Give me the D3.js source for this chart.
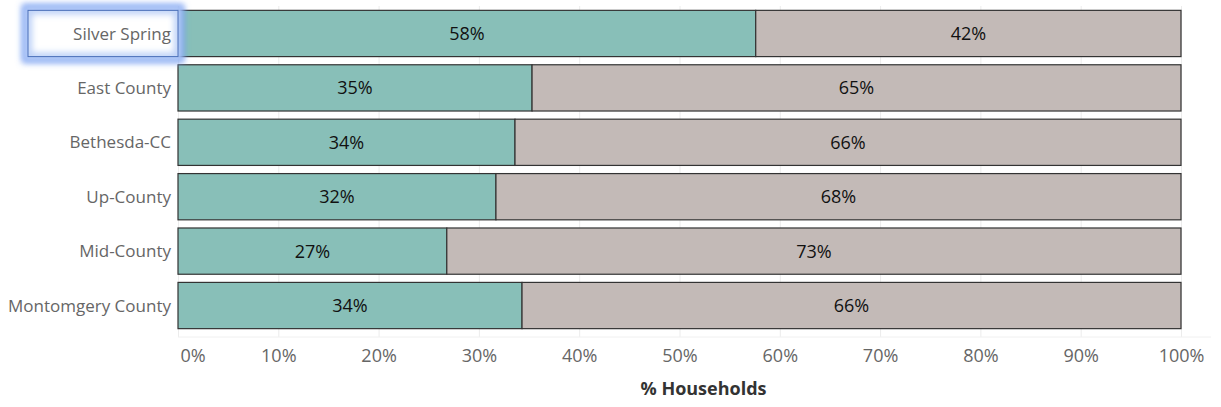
<!DOCTYPE html>
<html>
<head>
<meta charset="utf-8">
<script src="https://cdn.jsdelivr.net/npm/d3@7"></script>
<style>
  body { margin: 0; background: #fff; }
  text { font-family: "Open Sans", "Noto Sans", sans-serif; }
  .x.axis path { display: none; }
  .x.axis line { stroke: #ececec; }
  .x.axis text { fill: #666; font-size: 18px; }
</style>
</head>
<body>
<div id="chart"></div>
<script>
// regions top to bottom, share of households in the first group (%)
var regions = ["Silver Spring", "East County", "Bethesda-CC", "Up-County", "Mid-County", "Montomgery County"];
var firstShare = [57.6, 35.3, 33.6, 31.7, 26.8, 34.3];
var xTicks = [0, 10, 20, 30, 40, 50, 60, 70, 80, 90, 100];
var highlighted = "Silver Spring";

var svg = d3.select("#chart").append("svg").attr("width", 1221).attr("height", 407),
    margin = {top: 6, right: 40, bottom: 74, left: 178},
    width = +svg.attr("width") - margin.left - margin.right,
    height = +svg.attr("height") - margin.top - margin.bottom;

var x = d3.scaleLinear().domain([0, 100]).range([0, width]);
var y = d3.scaleBand().domain(regions).range([0, height]).paddingInner(0.15).paddingOuter(0.08);

var g = svg.append("g").attr("transform", "translate(" + margin.left + "," + margin.top + ")");

// glow for the highlighted label
var defs = svg.append("defs");
var f = defs.append("filter").attr("id", "glow").attr("x", "-20%").attr("y", "-50%").attr("width", "140%").attr("height", "200%");
f.append("feGaussianBlur").attr("stdDeviation", 3);

// gridlines + tick labels
var xAxis = g.append("g")
    .attr("class", "x axis")
    .attr("transform", "translate(0," + (height + 4) + ")")
    .call(d3.axisBottom(x).tickValues(xTicks).tickFormat(function(d) { return d + "%"; })
        .tickSizeInner(-(height + 4)).tickSizeOuter(0).tickPadding(12));
xAxis.selectAll(".tick text").filter(function(d) { return d === 0; })
    .attr("text-anchor", "start").attr("x", 2);

g.append("line")
    .attr("x1", 0).attr("x2", width + 30)
    .attr("y1", height + 4).attr("y2", height + 4)
    .attr("stroke", "#f0f0f0");

var rows = regions.map(function(r, i) { return {region: r, a: firstShare[i], b: 100 - firstShare[i]}; });

var row = g.selectAll(".row").data(rows).enter().append("g")
    .attr("class", "row")
    .attr("transform", function(d) { return "translate(0," + y(d.region) + ")"; });

row.append("rect")
    .attr("x", 0).attr("y", 0)
    .attr("width", function(d) { return x(d.a); })
    .attr("height", y.bandwidth())
    .attr("fill", "#88bfb8").attr("stroke", "#333").attr("stroke-width", 1.2);

row.append("rect")
    .attr("x", function(d) { return x(d.a); }).attr("y", 0)
    .attr("width", function(d) { return x(d.b); })
    .attr("height", y.bandwidth())
    .attr("fill", "#c3bab7").attr("stroke", "#333").attr("stroke-width", 1.2);

row.append("text")
    .attr("x", function(d) { return x(d.a / 2); })
    .attr("y", y.bandwidth() / 2).attr("dy", "0.36em")
    .attr("text-anchor", "middle").attr("font-size", 18).attr("fill", "#111")
    .text(function(d) { return Math.round(d.a) + "%"; });

row.append("text")
    .attr("x", function(d) { return x(d.a + d.b / 2); })
    .attr("y", y.bandwidth() / 2).attr("dy", "0.36em")
    .attr("text-anchor", "middle").attr("font-size", 18).attr("fill", "#111")
    .text(function(d) { return Math.round(d.b) + "%"; });

// highlight box
var hy = y(highlighted);
var hl = g.append("g");
hl.append("rect")
    .attr("x", -150).attr("y", hy).attr("width", 150).attr("height", y.bandwidth())
    .attr("fill", "none").attr("stroke", "#5d8cf0").attr("stroke-width", 12).attr("stroke-opacity", 0.85)
    .attr("filter", "url(#glow)");
hl.append("rect")
    .attr("x", -150).attr("y", hy).attr("width", 150).attr("height", y.bandwidth())
    .attr("fill", "#fff").attr("stroke", "none");
hl.append("rect")
    .attr("x", -150).attr("y", hy).attr("width", 150).attr("height", y.bandwidth())
    .attr("fill", "none").attr("stroke", "#bcd0f7").attr("stroke-width", 8)
    .attr("filter", "url(#glow)");
hl.append("rect")
    .attr("x", -150).attr("y", hy).attr("width", 150).attr("height", y.bandwidth())
    .attr("fill", "none").attr("stroke", "#4a6fb8").attr("stroke-width", 1);

// category labels
g.selectAll(".cat").data(regions).enter().append("text")
    .attr("class", "cat")
    .attr("x", -7)
    .attr("y", function(d) { return y(d) + y.bandwidth() / 2; })
    .attr("dy", "0.36em")
    .attr("text-anchor", "end").attr("font-size", 17).attr("fill", "#666")
    .text(function(d) { return d; });

g.append("text")
    .attr("x", width / 2 + 24).attr("y", height + 62)
    .attr("text-anchor", "middle").attr("font-size", 18).attr("font-weight", "bold").attr("fill", "#333")
    .text("% Households");
</script>
</body>
</html>
